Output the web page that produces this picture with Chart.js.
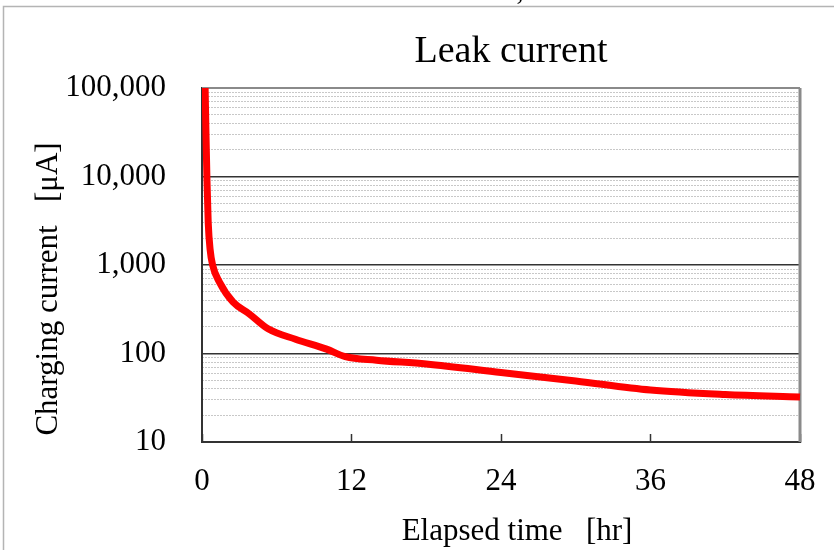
<!DOCTYPE html>
<html>
<head>
<meta charset="utf-8">
<script src="https://cdn.jsdelivr.net/npm/chart.js@4.4.1/dist/chart.umd.min.js"></script>
<style>
  html, body { margin: 0; padding: 0; background: #ffffff; }
  #wrap { width: 834px; height: 550px; }
</style>
</head>
<body>
<div id="wrap"><canvas id="chart" width="834" height="550"></canvas></div>
<script>
// Charging (leak) current over 48 hours
const hours    = [0.25, 0.32, 0.4, 0.5, 0.65, 0.85, 1.4, 2.5, 3.8, 5.3, 7.5, 10, 11.5, 14, 18, 24, 30, 36, 42, 48];
const currents = [100000, 30000, 9000, 3000, 1500, 1000, 640, 380, 280, 190, 145, 112, 92, 84, 76, 61, 49, 38.7, 34.4, 32.2];

const xTickValues = [0, 12, 24, 36, 48];
const yMajorTicks = [10, 100, 1000, 10000, 100000];

const titleText = 'Leak current';
const xTitleText = 'Elapsed time   [hr]';
const yTitleText = 'Charging current   [\u03bcA]';

const SERIF = "'Liberation Serif', 'Times New Roman', serif";

// light dotted lines at 2..9 within each decade
const yMinorTicks = [];
for (let d = 0; d < yMajorTicks.length - 1; d++) {
  for (let m = 2; m <= 9; m++) yMinorTicks.push(yMajorTicks[d] * m);
}

const points = hours.map((h, i) => ({ x: h, y: currents[i] }));

const framePlugin = {
  id: 'frame',
  beforeDraw(chart) {
    const ctx = chart.ctx;
    ctx.save();
    ctx.fillStyle = '#ffffff';
    ctx.fillRect(0, 0, chart.width, chart.height);
    ctx.strokeStyle = '#b4b4b4';
    ctx.lineWidth = 1.5;
    ctx.beginPath();
    ctx.moveTo(3.5, chart.height + 5);
    ctx.lineTo(3.5, 6.5);
    ctx.lineTo(chart.width + 5, 6.5);
    ctx.stroke();
    // fragment of a caption above the chart
    ctx.fillStyle = '#000';
    ctx.font = '28px ' + SERIF;
    ctx.textAlign = 'center';
    ctx.textBaseline = 'alphabetic';
    ctx.fillText(',', 520, 0);
    ctx.restore();
  },
  beforeDatasetsDraw(chart) {
    const { ctx, chartArea: a } = chart;
    ctx.save();
    ctx.strokeStyle = '#8a8a8a';
    ctx.lineWidth = 2;
    ctx.beginPath();
    ctx.moveTo(a.left, a.top);
    ctx.lineTo(a.right, a.top);
    ctx.stroke();
    ctx.lineWidth = 3;
    ctx.beginPath();
    ctx.moveTo(a.right, a.top);
    ctx.lineTo(a.right, a.bottom);
    ctx.stroke();
    ctx.restore();
  },
  afterDraw(chart) {
    const ctx = chart.ctx;
    ctx.save();
    ctx.fillStyle = '#000';
    ctx.textAlign = 'center';
    ctx.textBaseline = 'alphabetic';
    ctx.font = '38px ' + SERIF;
    ctx.fillText(titleText, 511, 62);
    ctx.font = '31px ' + SERIF;
    ctx.fillText(xTitleText, 517, 540);
    ctx.translate(57, 289);
    ctx.rotate(-Math.PI / 2);
    ctx.fillText(yTitleText, 0, 0);
    ctx.restore();
  }
};

new Chart(document.getElementById('chart'), {
  type: 'line',
  data: {
    datasets: [{
      data: points,
      borderColor: '#ff0000',
      borderWidth: 7,
      pointRadius: 0,
      fill: false,
      cubicInterpolationMode: 'monotone',
      clip: { left: 0, top: 0, right: 3, bottom: 0 }
    }]
  },
  options: {
    responsive: false,
    animation: false,
    devicePixelRatio: 1,
    layout: { padding: { left: 0, right: 34, top: 88, bottom: 0 } },
    plugins: {
      legend: { display: false },
      title: { display: false },
      tooltip: { enabled: false }
    },
    scales: {
      x: {
        type: 'linear',
        min: 0,
        max: 48,
        afterBuildTicks(scale) { scale.ticks = xTickValues.map(v => ({ value: v })); },
        afterFit(scale) {
          scale.height = 108;
          scale.paddingLeft = 0;
          scale.paddingRight = 0;
        },
        ticks: {
          color: '#000',
          font: { family: SERIF, size: 31 },
          padding: 29,
          maxRotation: 0,
          autoSkip: false
        },
        grid: {
          drawOnChartArea: false,
          drawTicks: true,
          tickLength: -8,
          tickColor: '#333',
          tickWidth: 1.5
        },
        border: { display: true, color: '#333', width: 2 }
      },
      yMinor: {
        type: 'logarithmic',
        position: 'left',
        min: 10,
        max: 100000,
        afterBuildTicks(scale) { scale.ticks = yMinorTicks.map(v => ({ value: v })); },
        afterFit(scale) { scale.width = 0; },
        ticks: { display: false },
        grid: { color: '#c8c8c8', lineWidth: 1, drawTicks: false },
        border: { display: false, dash: [2, 1] }
      },
      y: {
        type: 'logarithmic',
        position: 'left',
        min: 10,
        max: 100000,
        afterBuildTicks(scale) { scale.ticks = yMajorTicks.map(v => ({ value: v })); },
        afterFit(scale) { scale.width = 202; },
        ticks: {
          color: '#000',
          font: { family: SERIF, size: 31 },
          padding: 36,
          callback: (v) => Number(v).toLocaleString('en-US')
        },
        grid: { color: '#333', lineWidth: 1.5, drawTicks: false },
        border: { display: true, color: '#333', width: 2 }
      }
    }
  },
  plugins: [framePlugin]
});
</script>
</body>
</html>
